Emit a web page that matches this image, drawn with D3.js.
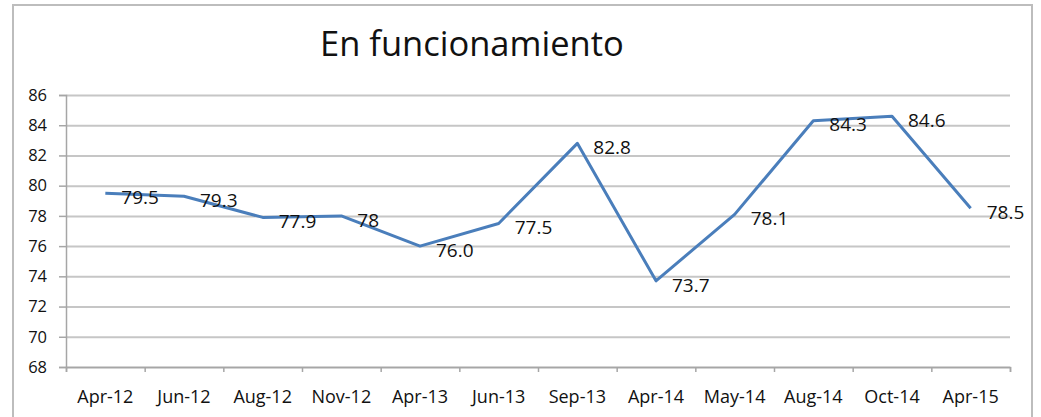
<!DOCTYPE html>
<html>
<head>
<meta charset="utf-8">
<script src="https://cdn.jsdelivr.net/npm/d3@7"></script>
<style>
  body { margin: 0; background: #fff; }
  text { font-family: "Open Sans", sans-serif; fill: #111; }
</style>
</head>
<body>
<div id="chart"></div>
<script>
const categories = ['Apr-12', 'Jun-12', 'Aug-12', 'Nov-12', 'Apr-13', 'Jun-13',
  'Sep-13', 'Apr-14', 'May-14', 'Aug-14', 'Oct-14', 'Apr-15'];
const values = [79.5, 79.3, 77.9, 78, 76.0, 77.5, 82.8, 73.7, 78.1, 84.3, 84.6, 78.5];
const valueLabels = ['79.5', '79.3', '77.9', '78', '76.0', '77.5', '82.8', '73.7', '78.1', '84.3', '84.6', '78.5'];
const yTicks = [68, 70, 72, 74, 76, 78, 80, 82, 84, 86];

const W = 1041, H = 417;
const margin = { top: 95, right: 31, bottom: 50, left: 66 };
const width = W - margin.left - margin.right,
  height = H - margin.top - margin.bottom;

const svg = d3.select('#chart').append('svg')
  .attr('width', W)
  .attr('height', H);

// outer chart frame
svg.append('rect')
  .attr('x', 13).attr('y', 5)
  .attr('width', 1019).attr('height', 440)
  .attr('fill', 'none')
  .attr('stroke', '#bdbdbd')
  .attr('stroke-width', 2);

svg.append('text')
  .attr('x', 320).attr('y', 56)
  .style('font-size', '34.5px')
  .text('En funcionamiento');

const g = svg.append('g')
  .attr('transform', 'translate(' + margin.left + ',' + margin.top + ')');

const x_scale = d3.scaleBand().domain(categories).range([0, width]);
const x_edges = d3.scaleLinear().domain([0, categories.length]).range([0, width]);
const y_scale = d3.scaleLinear().domain([68, 86]).range([height, 0]);

// gridlines
g.append('g')
  .attr('class', 'grid')
  .call(d3.axisLeft(y_scale).tickValues(yTicks).tickSize(-width).tickFormat(''))
  .call((s) => s.select('.domain').remove())
  .call((s) => s.selectAll('line').attr('stroke', '#c6c6c6').attr('stroke-width', 2));

// y axis
g.append('g')
  .attr('class', 'y-axis')
  .call(d3.axisLeft(y_scale).tickValues(yTicks).tickSize(7).tickPadding(12))
  .call((s) => s.select('.domain').attr('stroke', '#a6a6a6').attr('stroke-width', 1.5))
  .call((s) => s.selectAll('line').attr('stroke', '#a6a6a6').attr('stroke-width', 1.5))
  .call((s) => s.selectAll('text').style('font-size', '16.5px').attr('fill', '#111'));

// x axis ticks between categories
g.append('g')
  .attr('class', 'x-axis')
  .attr('transform', 'translate(0,' + height + ')')
  .call(d3.axisBottom(x_edges).tickValues(d3.range(categories.length + 1)).tickSize(5).tickFormat(''))
  .call((s) => s.select('.domain').attr('stroke', '#a6a6a6').attr('stroke-width', 1.5))
  .call((s) => s.selectAll('line').attr('stroke', '#a6a6a6').attr('stroke-width', 1.5));

// x labels
g.append('g')
  .attr('class', 'x-labels')
  .attr('transform', 'translate(0,' + height + ')')
  .call(d3.axisBottom(x_scale).tickSize(0).tickPadding(23))
  .call((s) => s.select('.domain').remove())
  .call((s) => s.selectAll('text').style('font-size', '18px').attr('fill', '#111'));

const points = categories.map((c, i) => ({ cat: c, value: values[i], label: valueLabels[i] }));
const cx = (d) => x_scale(d.cat) + x_scale.bandwidth() / 2;

const line = d3.line()
  .x((d) => cx(d))
  .y((d) => y_scale(d.value));

g.append('path')
  .datum(points)
  .attr('fill', 'none')
  .attr('stroke', '#4a7ebb')
  .attr('stroke-width', 3)
  .attr('stroke-linejoin', 'round')
  .attr('d', line);

g.append('g')
  .attr('class', 'labels')
  .selectAll('text')
  .data(points)
  .enter()
  .append('text')
  .attr('x', (d) => cx(d) + 16)
  .attr('y', (d) => y_scale(d.value) + 4)
  .attr('dy', '0.35em')
  .style('font-size', '19px')
  .text((d) => d.label);
</script>
</body>
</html>
